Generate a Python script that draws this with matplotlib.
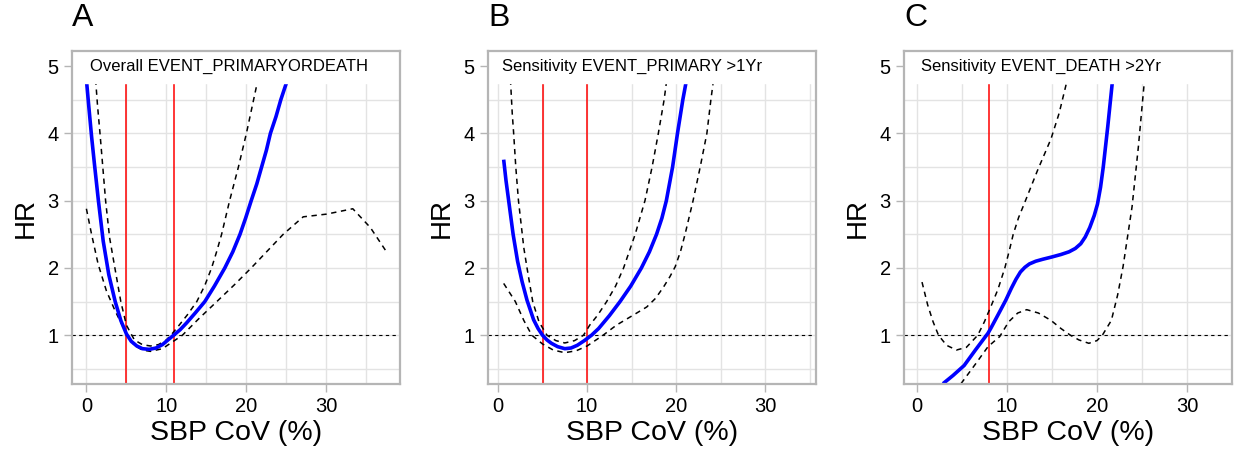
import matplotlib
matplotlib.use("Agg")
import matplotlib.pyplot as plt

plt.rcParams['font.family'] = ['Liberation Sans', 'DejaVu Sans']

# -------------------------------
# Data (SBP CoV %, HR)
# -------------------------------
panel_letters = ["A", "B", "C"]
panel_titles = ["Overall EVENT_PRIMARYORDEATH",
                "Sensitivity EVENT_PRIMARY >1Yr",
                "Sensitivity EVENT_DEATH >2Yr"]
cutoffs = [[5, 11], [5, 10], [8]]
x_limits = [(-1.8, 39.2), (-1.12, 35.7), (-1.43, 31.46)]

# Panel A
a_fit_x = [0.0, 0.3, 0.65, 1.0, 1.5, 2.1, 2.8, 3.6, 4.3, 5.0, 5.6, 6.3, 7.0, 7.85,
           8.7, 9.5, 10.2, 10.9, 11.7, 12.5, 13.6, 14.8, 16.0, 17.3, 18.3, 19.2,
           19.9, 20.6, 21.3, 21.9, 22.5, 23.0, 23.7, 24.3, 25.0, 25.4]
a_fit_y = [4.8, 4.4, 3.95, 3.55, 3.0, 2.4, 1.9, 1.5, 1.22, 1.02, 0.91, 0.84, 0.8, 0.79,
           0.81, 0.86, 0.93, 1.0, 1.08, 1.18, 1.33, 1.5, 1.73, 2.0, 2.24, 2.5,
           2.74, 3.0, 3.25, 3.5, 3.75, 4.0, 4.25, 4.5, 4.75, 5.0]
a_hi_x = [1.15, 1.4, 1.7, 2.05, 2.4, 2.9, 3.56, 4.3, 5.0, 6.0, 7.0, 8.0, 9.0, 10.0,
          10.7, 11.6, 12.6, 13.8, 14.8, 15.65, 16.3, 16.9, 17.9, 19.0, 20.0, 20.9, 21.35, 21.6]
a_hi_y = [4.8, 4.4, 4.0, 3.5, 3.0, 2.45, 2.0, 1.5, 1.15, 0.93, 0.86, 0.84, 0.86, 0.93,
          1.02, 1.15, 1.3, 1.5, 1.74, 2.0, 2.25, 2.5, 3.0, 3.5, 4.0, 4.5, 4.75, 5.0]
a_lo_x = [0.0, 0.63, 1.46, 2.5, 3.56, 5.0, 6.0, 7.0, 8.0, 9.5, 10.5, 12.0, 14.0, 16.3,
          18.5, 20.6, 22.6, 24.6, 27.1, 30.0, 33.3, 35.5, 37.4]
a_lo_y = [2.88, 2.51, 2.06, 1.66, 1.37, 1.02, 0.85, 0.78, 0.76, 0.8, 0.88, 1.0, 1.24, 1.5,
          1.75, 2.0, 2.25, 2.5, 2.76, 2.8, 2.88, 2.6, 2.26]

# Panel B
b_fit_x = [0.64, 0.9, 1.2, 1.7, 2.2, 2.7, 3.26, 4.0, 4.5, 5.0, 5.5, 6.0, 6.7, 7.5,
           8.2, 8.9, 9.7, 10.5, 11.3, 12.5, 13.7, 14.9, 16.1, 17.0, 17.8, 18.4,
           18.9, 19.6, 20.15, 20.75, 21.1, 21.3]
b_fit_y = [3.61, 3.3, 3.0, 2.5, 2.1, 1.8, 1.52, 1.23, 1.1, 1.0, 0.93, 0.88, 0.83, 0.8,
           0.81, 0.85, 0.92, 1.0, 1.1, 1.29, 1.5, 1.73, 2.0, 2.24, 2.5, 2.74,
           3.0, 3.5, 4.0, 4.5, 4.75, 5.0]
b_hi_x = [1.4, 1.6, 1.76, 2.0, 2.3, 2.9, 3.26, 3.9, 4.6, 5.5, 6.5, 7.5, 8.6, 9.6,
          10.3, 11.2, 12.2, 13.2, 14.1, 15.4, 16.5, 17.3, 18.0, 18.65, 18.9, 19.05]
b_hi_y = [4.8, 4.3, 4.0, 3.5, 3.0, 2.3, 2.0, 1.5, 1.2, 1.0, 0.92, 0.885, 0.92, 1.0,
          1.15, 1.3, 1.5, 1.73, 2.0, 2.5, 3.0, 3.5, 4.0, 4.5, 4.75, 5.0]
b_lo_x = [0.64, 1.95, 2.9, 3.8, 5.0, 6.2, 7.5, 8.8, 10.0, 11.8, 13.3, 15.2, 16.7,
          17.7, 18.6, 19.3, 19.9, 20.5, 21.0, 21.9, 22.7, 23.45, 23.9, 24.2]
b_lo_y = [1.77, 1.5, 1.22, 1.0, 0.87, 0.78, 0.74, 0.77, 0.84, 1.0, 1.15, 1.3, 1.42,
          1.55, 1.72, 1.87, 2.02, 2.25, 2.5, 3.0, 3.5, 4.0, 4.5, 4.8]

# Panel C
c_fit_x = [2.9, 4.0, 5.25, 6.5, 7.9, 8.2, 9.0, 9.87, 10.5, 11.0, 11.5, 12.0, 12.5,
           13.2, 14.0, 14.9, 16.0, 16.9, 17.6, 18.2, 18.7, 19.2, 19.7, 20.06, 20.4,
           20.7, 21.2, 21.7, 21.85]
c_fit_y = [0.28, 0.4, 0.55, 0.78, 1.03, 1.1, 1.3, 1.52, 1.7, 1.83, 1.94, 2.01, 2.06,
           2.1, 2.13, 2.16, 2.2, 2.24, 2.29, 2.36, 2.46, 2.6, 2.78, 2.95, 3.2,
           3.5, 4.1, 4.75, 5.0]
c_hi_x = [0.57, 1.2, 1.8, 2.4, 3.3, 4.4, 5.5, 6.76, 7.5, 8.2, 9.0, 9.77, 10.27, 10.7,
          11.3, 11.94, 13.4, 14.9, 15.8, 16.6, 16.9]
c_hi_y = [1.79, 1.45, 1.2, 1.0, 0.85, 0.78, 0.82, 1.0, 1.2, 1.42, 1.68, 2.0, 2.26, 2.5,
          2.75, 2.96, 3.45, 3.92, 4.3, 4.74, 5.0]
c_lo_x = [4.9, 6.5, 7.9, 9.2, 10.2, 11.2, 12.2, 13.5, 14.9, 16.0, 17.05, 18.0, 19.1,
          20.0, 20.6, 21.6, 22.3, 22.9, 23.9, 24.6, 25.25, 25.4]
c_lo_y = [0.28, 0.57, 0.83, 0.98, 1.2, 1.33, 1.38, 1.33, 1.22, 1.1, 1.0, 0.93, 0.88,
          0.92, 1.0, 1.22, 1.6, 2.02, 2.91, 3.8, 4.75, 5.0]

fits = [(a_fit_x, a_fit_y), (b_fit_x, b_fit_y), (c_fit_x, c_fit_y)]
uppers = [(a_hi_x, a_hi_y), (b_hi_x, b_hi_y), (c_hi_x, c_hi_y)]
lowers = [(a_lo_x, a_lo_y), (b_lo_x, b_lo_y), (c_lo_x, c_lo_y)]

# -------------------------------
# Figure
# -------------------------------
W, H = 1237, 453
fig = plt.figure(figsize=(W / 100, H / 100), dpi=100)

lefts = [72, 488, 904]
width_px = 328
top_px, bottom_px = 51, 384
grid_col = "#E3E3E3"
frame_col = "#B5B5B5"

for i in range(3):
    ax = fig.add_axes([lefts[i] / W, (H - bottom_px) / H,
                       width_px / W, (bottom_px - top_px) / H])
    ax.set_xlim(*x_limits[i])
    ax.set_ylim(0.275, 5.225)
    ax.set_xticks([0, 10, 20, 30])
    ax.set_xticks([5, 15, 25, 35], minor=True)
    ax.set_yticks([1, 2, 3, 4, 5])
    ax.set_yticks([0.5, 1.5, 2.5, 3.5, 4.5], minor=True)
    ax.set_axisbelow(True)
    ax.grid(True, which="both", color=grid_col, lw=1.0)
    ax.tick_params(which="major", labelsize=14.5, color=frame_col, length=5.5,
                   width=1.0, pad=4)
    ax.tick_params(which="minor", length=0)
    for sp in ax.spines.values():
        sp.set_color(frame_col)
        sp.set_linewidth(1.6)
        sp.set_zorder(6)

    for c in cutoffs[i]:
        ax.axvline(c, color="#FF0000", lw=1.1, zorder=1.5)
    ax.axhline(1, color="black", lw=0.8, dashes=(3, 3), zorder=1.6)

    lx, ly = lowers[i]
    ux, uy = uppers[i]
    fx, fy = fits[i]
    ax.plot(lx, ly, color="black", lw=1.1, dashes=(3.5, 3), zorder=2)
    ax.plot(ux, uy, color="black", lw=1.1, dashes=(3.5, 3), zorder=2)
    ax.plot(fx, fy, color="#0000FF", lw=2.6, zorder=2.5,
            solid_capstyle="butt", solid_joinstyle="round")

    # white label band at the top of each panel
    ax.axhspan(4.75, 5.3, color="white", zorder=3)
    ax.text(0.5, 5.0, panel_titles[i], ha="left", va="center", fontsize=12,
            zorder=4)

    ax.set_xlabel("SBP CoV (%)", fontsize=20.5, labelpad=3)
    ax.set_ylabel("HR", fontsize=20, labelpad=6)

    fig.text(lefts[i] / W, 1 - 18 / H, panel_letters[i], fontsize=23,
             ha="left", va="center")

fig.savefig("out.png", dpi=100)
